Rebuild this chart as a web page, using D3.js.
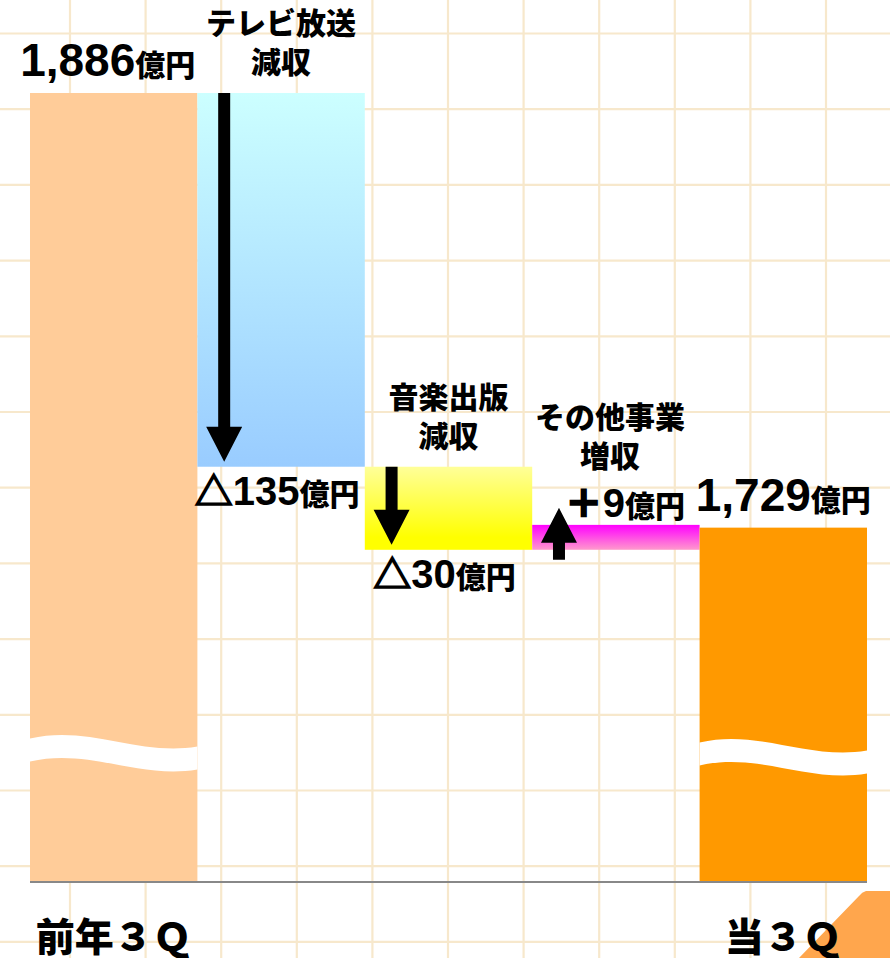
<!DOCTYPE html>
<html>
<head>
    <meta charset="utf-8">
    <title>売上高の増減</title>
    <script src="https://d3js.org/d3.v7.min.js"></script>
    <style>
        body {
            margin: 0;
            background: #ffffff;
        }

        .num {
            font-family: "Liberation Sans", Arial, sans-serif;
            font-weight: bold;
        }

        .jp {
            font-family: "Noto Sans CJK JP", sans-serif;
            font-weight: 900;
        }
    </style>
</head>
<body>
    <div id="chart"></div>
    <script>
        // data
        const stages = ["prev", "tv", "music", "other", "curr"];
        const values = [1886, -135, -30, 9, 1729];
        const kinds = ["total", "delta", "delta", "delta", "total"];
        const valueLabels = ["1,886", "△135", "△30", "＋9", "1,729"];
        const labelLine1 = ["", "テレビ放送", "音楽出版", "その他事業", ""];
        const labelLine2 = ["", "減収", "減収", "増収", ""];
        const axisLabels = ["前年３Ｑ", "", "", "", "当３Ｑ"];
        const axisFloor = 1601;   // value at the baseline (axis is broken)

        const width = 890, height = 958;

        const svg = d3.select("#chart")
            .append("svg")
            .attr("width", width)
            .attr("height", height);

        // gradients for the change bars
        const defs = svg.append("defs");
        const grads = [
            { id: "g-tv", top: "#ccffff", bottom: "#99ccff", stop: 1 },
            { id: "g-music", top: "#ffff99", bottom: "#ffff00", stop: 0.85 },
            { id: "g-other", top: "#ff00ff", bottom: "#ff99cc", stop: 1 }
        ];
        grads.forEach(g => {
            const lg = defs.append("linearGradient").attr("id", g.id)
                .attr("x1", 0).attr("y1", 0).attr("x2", 0).attr("y2", 1);
            lg.append("stop").attr("offset", 0).attr("stop-color", g.top);
            lg.append("stop").attr("offset", g.stop).attr("stop-color", g.bottom);
        });
        const fills = ["#ffcc99", "url(#g-tv)", "url(#g-music)", "url(#g-other)", "#ff9900"];

        // background grid
        const grid = svg.append("g").attr("stroke", "#f7e8cc").attr("stroke-width", 2.2);
        d3.range(0, 11).forEach(k => {
            const gx = 70 + 75.6 * k;
            grid.append("line").attr("x1", gx).attr("x2", gx).attr("y1", 0).attr("y2", height);
        });
        d3.range(0, 13).forEach(k => {
            const gy = 33.5 + 75.7 * k;
            grid.append("line").attr("x1", 0).attr("x2", width).attr("y1", gy).attr("y2", gy);
        });

        // corner decoration
        svg.append("path")
            .attr("d", "M890,891 L866,891 Q862,892 859,896 L799,958 L890,958 Z")
            .attr("fill", "#ffa64d");

        // scales
        const x = d3.scaleBand().domain(stages).range([30, 867]).padding(0);
        const y = d3.scaleLinear().domain([axisFloor, 1886]).range([882, 93]);
        const bw = x.bandwidth();

        // running totals
        let run = 0;
        const bars = stages.map((s, i) => {
            let lo, hi;
            if (kinds[i] === "total") {
                lo = axisFloor; hi = values[i]; run = values[i];
            } else {
                const next = run + values[i];
                lo = Math.min(run, next); hi = Math.max(run, next);
                run = next;
            }
            return { stage: s, i, lo, hi, v: values[i], kind: kinds[i] };
        });

        svg.selectAll("rect.bar")
            .data(bars)
            .join("rect")
            .attr("class", "bar")
            .attr("x", d => x(d.stage))
            .attr("y", d => y(d.hi))
            .attr("width", bw)
            .attr("height", d => y(d.lo) - y(d.hi))
            .attr("fill", d => fills[d.i]);

        // break marks on the total bars
        const breakY = y(axisFloor) - 130;
        bars.filter(d => d.kind === "total").forEach(d => {
            const x0 = x(d.stage), x1 = x0 + bw, w = bw;
            const off = d.i === 0 ? -2 : 2;
            const c = yy => `M${x0},${yy} C${x0 + w * 0.35},${yy - 14} ${x0 + w * 0.65},${yy + 18} ${x1},${yy + 8}`;
            const top = breakY + off - 11.5, bot = breakY + off + 11.5;
            const path = c(top) +
                ` L${x1},${bot + 8} C${x0 + w * 0.65},${bot + 18} ${x0 + w * 0.35},${bot - 14} ${x0},${bot} Z`;
            svg.append("path").attr("d", path).attr("fill", "#ffffff");
        });

        // axis line
        svg.append("line")
            .attr("x1", x("prev")).attr("x2", x("curr") + bw)
            .attr("y1", y(axisFloor)).attr("y2", y(axisFloor))
            .attr("stroke", "#888888").attr("stroke-width", 2);

        // arrows
        function arrow(xc, y0, y1) {
            const dir = y1 > y0 ? 1 : -1;
            const hb = y1 - dir * 35;
            return `M${xc - 6},${y0} L${xc + 6},${y0} L${xc + 6},${hb} L${xc + 18},${hb} L${xc},${y1} L${xc - 18},${hb} L${xc - 6},${hb} Z`;
        }
        bars.filter(d => d.kind === "delta").forEach(d => {
            const xc = x(d.stage) + bw * 0.16;
            const p = d.v < 0 ? arrow(xc, y(d.hi), y(d.lo) - 5) : arrow(xc, y(d.lo) + 10, y(d.hi) - 17);
            svg.append("path").attr("d", p).attr("fill", "#000000");
        });

        // value labels
        bars.forEach(d => {
            const cx = x(d.stage) + bw / 2;
            let by, numSize = 40;
            if (d.kind === "total") { by = y(d.hi) - 17; numSize = 46; }
            else if (d.v < 0) by = y(d.lo) + 38;
            else by = y(d.hi) - 8;
            const shift = [-6, -4, -4, 9, 0][d.i];
            const t = svg.append("text")
                .attr("x", cx + shift)
                .attr("y", by)
                .attr("text-anchor", "middle");
            const lab = valueLabels[d.i];
            const sign = lab.match(/^[△＋]/);
            if (sign) {
                t.append("tspan").attr("class", "jp").style("font-size", "38px")
                    .attr("stroke", "#000").attr("stroke-width", 1.6)
                    .text(sign[0]);
            }
            t.append("tspan").attr("class", "num").style("font-size", numSize + "px")
                .text(sign ? lab.slice(1) : lab);
            t.append("tspan").attr("class", "jp").style("font-size", "30px").text("億円");
        });

        // category labels above change bars
        bars.filter(d => d.kind === "delta").forEach(d => {
            const cx = x(d.stage) + bw / 2 + (d.v > 0 ? -6 : 0);
            const base = d.v > 0 ? y(d.hi) - 58 : y(d.hi) - 20;
            svg.append("text").attr("class", "jp")
                .attr("x", cx).attr("y", base - 39)
                .attr("text-anchor", "middle").style("font-size", "30px")
                .text(labelLine1[d.i]);
            svg.append("text").attr("class", "jp")
                .attr("x", cx).attr("y", base)
                .attr("text-anchor", "middle").style("font-size", "30px")
                .text(labelLine2[d.i]);
        });

        // x labels
        svg.selectAll("text.xlab")
            .data(bars.filter(d => axisLabels[d.i] !== ""))
            .join("text")
            .attr("class", "xlab jp")
            .attr("x", d => x(d.stage) + bw / 2)
            .attr("y", 951)
            .attr("text-anchor", "middle")
            .style("font-size", "39px")
            .text(d => axisLabels[d.i]);
    </script>
</body>
</html>
